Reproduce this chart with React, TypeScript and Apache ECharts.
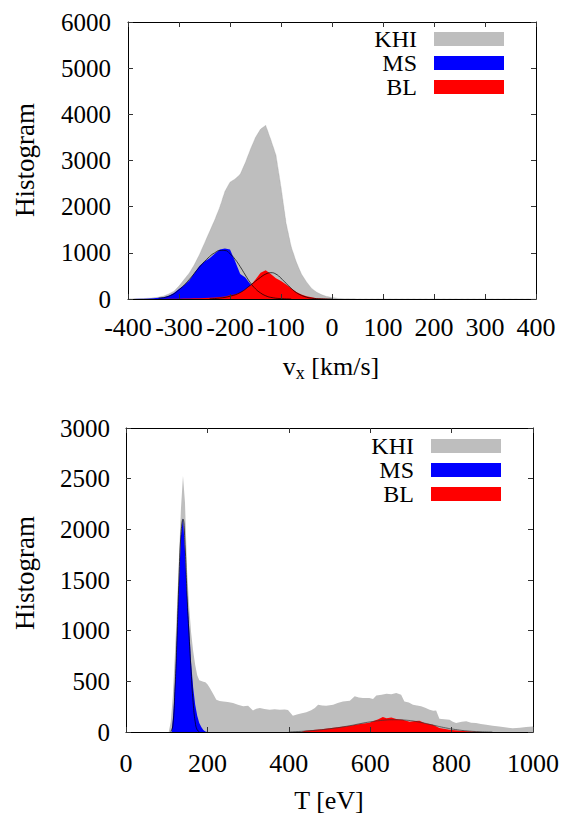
import React, { useEffect, useRef } from 'react';
import * as echarts from 'echarts';

const FONT = "'Liberation Serif', 'Times New Roman', serif";

// ---------- Top chart: v_x histogram ----------
const vxKHIx = [-400, -390, -380, -370, -360, -350, -340, -330, -320, -310, -300, -290, -280, -270, -260, -250, -240, -230, -220, -210, -200, -190, -180, -170, -160, -150, -140, -130, -120, -110, -100, -90, -80, -70, -60, -50, -40, -30, -20, -10, 0, 10, 20, 30, 40, 50, 400];
const vxKHIy = [0, 3, 6, 10, 16, 25, 40, 65, 110, 170, 280, 420, 560, 740, 960, 1210, 1460, 1710, 1990, 2330, 2530, 2600, 2700, 2950, 3240, 3500, 3680, 3760, 3450, 3120, 2420, 1640, 1130, 800, 540, 370, 230, 145, 90, 55, 30, 15, 8, 5, 3, 2, 1];

const vxMSx = [-400, -390, -380, -370, -360, -350, -340, -330, -320, -310, -300, -290, -280, -270, -260, -250, -240, -230, -220, -210, -200, -190, -180, -170, -160, -150, -140, -130, -120, -110, -100, -90, -80, -70];
const vxMSy = [0, 2, 4, 7, 12, 18, 28, 40, 70, 130, 215, 300, 400, 560, 715, 810, 885, 980, 1070, 1092, 1070, 820, 540, 465, 320, 210, 140, 75, 40, 20, 10, 5, 2, 0];

const vxBLx = [-330, -320, -310, -300, -290, -280, -270, -260, -250, -240, -230, -220, -210, -200, -190, -180, -170, -160, -150, -140, -130, -120, -110, -100, -90, -80, -70, -60, -50, -40, -30, -20, -10, 0, 10];
const vxBLy = [2, 3, 5, 7, 9, 11, 14, 17, 20, 25, 32, 42, 55, 80, 105, 140, 210, 290, 420, 570, 625, 540, 450, 390, 315, 235, 152, 95, 60, 38, 18, 10, 5, 2, 0];

const vxMSfitX = [-340, -320, -300, -280, -260, -240, -230, -220, -210, -200, -190, -180, -170, -160, -150, -140, -130, -120, -100, -80];
const vxMSfitY = [20, 60, 200, 420, 690, 920, 1000, 1050, 1050, 980, 860, 700, 520, 350, 220, 130, 70, 35, 8, 1];

const vxBLfitX = [-240, -220, -200, -180, -160, -140, -130, -120, -110, -100, -90, -80, -70, -60, -50, -40, -20, 0];
const vxBLfitY = [5, 20, 60, 140, 300, 470, 540, 570, 540, 450, 340, 230, 140, 80, 40, 18, 3, 0];

// ---------- Bottom chart: T histogram ----------
const tKHIx = [0, 100, 105, 110, 115, 120, 125, 130, 135, 140, 145, 150, 155, 160, 165, 170, 175, 180, 190, 195, 200, 206, 215, 222, 230, 239, 250, 263, 275, 288, 300, 312, 320, 329, 340, 353, 365, 378, 390, 398, 410, 420, 427, 443, 455, 464, 472, 482, 492, 509, 520, 533, 550, 562, 572, 582, 598, 607, 615, 628, 640, 652, 664, 676, 684, 695, 705, 715, 725, 735, 746, 755, 762, 770, 782, 795, 803, 811, 825, 836, 848, 860, 872, 885, 901, 917, 935, 950, 968, 983, 1000];
const tKHIy = [0, 0, 0, 100, 350, 750, 1200, 1700, 2200, 2530, 2260, 1600, 1250, 980, 800, 660, 560, 510, 495, 490, 470, 434, 370, 319, 305, 302, 295, 286, 270, 253, 260, 213, 230, 237, 228, 220, 225, 220, 222, 218, 161, 172, 181, 194, 215, 237, 270, 262, 260, 270, 285, 302, 309, 352, 340, 336, 336, 326, 361, 368, 378, 372, 385, 368, 302, 290, 270, 262, 253, 240, 220, 210, 213, 131, 125, 121, 100, 89, 100, 105, 92, 89, 80, 72, 62, 55, 45, 36, 42, 49, 55];

const tMSx = [100, 112, 115, 118, 122, 128, 135, 140, 145, 150, 155, 160, 165, 170, 175, 180, 185, 190, 195, 200];
const tMSy = [0, 0, 120, 290, 615, 1276, 1931, 2110, 1780, 1350, 1040, 680, 440, 270, 160, 90, 50, 20, 5, 0];

const tBLx = [430, 440, 460, 480, 500, 520, 550, 575, 598, 607, 620, 631, 640, 652, 664, 680, 697, 710, 721, 733, 754, 770, 795, 819, 840, 860, 875];
const tBLy = [0, 12, 20, 28, 38, 48, 62, 78, 92, 105, 125, 148, 135, 142, 128, 121, 102, 108, 112, 89, 72, 39, 23, 13, 7, 3, 0];

const tMSfitX = [110, 115, 120, 125, 130, 135, 140, 145, 150, 155, 160, 165, 170, 175, 180];
const tMSfitY = [5, 60, 400, 900, 1500, 1950, 2100, 1850, 1350, 950, 600, 290, 100, 20, 5];

const tBLfitX = [400, 450, 500, 550, 575, 600, 630, 660, 690, 720, 750, 780, 810, 840, 870, 900];
const tBLfitY = [0, 12, 32, 62, 82, 100, 115, 121, 116, 98, 72, 45, 24, 10, 3, 0];

const legendNames = ['KHI', 'MS', 'BL'];
const GREY = '#bebebe';
const BLUE = '#0000ff';
const RED = '#ff0000';

const zip = (xs: number[], ys: number[]) => xs.map((x, i) => [x, ys[i]]);
const plain = (v: number) => String(v);

function xAxisDef(grid: number, min: number, max: number, interval: number, pos: 'top' | 'bottom', margin: number) {
  return {
    type: 'value', gridIndex: grid, min, max, interval, position: pos, z: 10,
    axisLine: { show: true, onZero: false, lineStyle: { color: '#000', width: 1 } },
    axisTick: { show: true, inside: true, length: 5, lineStyle: { color: '#333', width: 1 } },
    axisLabel: { show: pos === 'bottom', fontFamily: FONT, fontSize: 26, color: '#000', margin, formatter: plain },
    splitLine: { show: false },
  };
}
function yAxisDef(grid: number, min: number, max: number, interval: number, pos: 'left' | 'right', margin: number) {
  return {
    type: 'value', gridIndex: grid, min, max, interval, position: pos, z: 10,
    axisLine: { show: true, onZero: false, lineStyle: { color: '#000', width: 1 } },
    axisTick: { show: true, inside: true, length: 5, lineStyle: { color: '#333', width: 1 } },
    axisLabel: { show: pos === 'left', fontFamily: FONT, fontSize: 25, color: '#000', margin, formatter: plain },
    splitLine: { show: false },
  };
}

function area(name: string, xi: number, yi: number, xs: number[], ys: number[], color: string, line?: any) {
  return {
    type: 'line', name, xAxisIndex: xi, yAxisIndex: yi, data: zip(xs, ys),
    symbol: 'none', smooth: false, color,
    itemStyle: { color, borderWidth: 0 },
    lineStyle: line || { width: 0, color },
    areaStyle: { color, opacity: 1 },
  };
}
function fit(name: string, xi: number, yi: number, xs: number[], ys: number[], color: string) {
  return {
    type: 'line', name, xAxisIndex: xi, yAxisIndex: yi, data: zip(xs, ys),
    symbol: 'none', smooth: true, lineStyle: { width: 0.7, color }, itemStyle: { color },
  };
}

function legendDef(right: number, top: number) {
  return {
    data: legendNames, orient: 'vertical', right, top, padding: 0,
    itemWidth: 70, itemHeight: 14, itemGap: 0, align: 'right', icon: 'rect',
    selectedMode: false,
    itemStyle: { borderWidth: 0 },
    lineStyle: { width: 0 },
    textStyle: { fontFamily: FONT, fontSize: 24, color: '#000', lineHeight: 14, padding: [0, 12, 0, 0] },
  };
}

export default function App() {
  const ref = useRef<HTMLDivElement>(null);
  useEffect(() => {
    const chart = echarts.init(ref.current!, null, { renderer: 'svg' });
    const option: any = {
      animation: false,
      backgroundColor: '#fff',
      grid: [
        { left: 128, top: 22, width: 408, height: 277 },
        { left: 126, top: 428, width: 407, height: 304 },
      ],
      xAxis: [
        xAxisDef(0, -400, 400, 100, 'bottom', 15),
        xAxisDef(0, -400, 400, 100, 'top', 8),
        xAxisDef(1, 0, 1000, 200, 'bottom', 18),
        xAxisDef(1, 0, 1000, 200, 'top', 8),
      ],
      yAxis: [
        yAxisDef(0, 0, 6000, 1000, 'left', 17),
        yAxisDef(0, 0, 6000, 1000, 'right', 8),
        yAxisDef(1, 0, 3000, 500, 'left', 16),
        yAxisDef(1, 0, 3000, 500, 'right', 8),
      ],
      legend: [legendDef(61, 27), legendDef(64, 434)],
      series: [
        area('KHI', 0, 0, vxKHIx, vxKHIy, GREY, { width: 0.6, color: '#9a9a9a', type: 'dotted' }),
        area('MS', 0, 0, vxMSx, vxMSy, BLUE),
        area('BL', 0, 0, vxBLx, vxBLy, RED),
        fit('MS fit', 0, 0, vxMSfitX, vxMSfitY, '#000'),
        fit('BL fit', 0, 0, vxBLfitX, vxBLfitY, '#000'),
        area('KHI', 2, 2, tKHIx, tKHIy, GREY),
        area('MS', 2, 2, tMSx, tMSy, BLUE),
        area('BL', 2, 2, tBLx, tBLy, RED),
        fit('MS fit', 2, 2, tMSfitX, tMSfitY, '#000'),
        fit('BL fit', 2, 2, tBLfitX, tBLfitY, '#333'),
      ],
      graphic: [
        { type: 'text', x: 25, y: 160, rotation: Math.PI / 2, style: { text: 'Histogram', fontFamily: FONT, fontSize: 27, fill: '#000', align: 'center', verticalAlign: 'middle' } },
        { type: 'text', x: 25, y: 573, rotation: Math.PI / 2, style: { text: 'Histogram', fontFamily: FONT, fontSize: 27, fill: '#000', align: 'center', verticalAlign: 'middle' } },
        {
          type: 'text', x: 331, y: 366,
          style: {
            text: '{v|v}{s|x}{v| [km/s]}', align: 'center', verticalAlign: 'middle', fill: '#000',
            rich: {
              v: { fontFamily: FONT, fontSize: 26, fill: '#000', lineHeight: 30, verticalAlign: 'middle' },
              s: { fontFamily: FONT, fontSize: 18, fill: '#000', lineHeight: 30, padding: [14, 0, 0, 0], verticalAlign: 'middle' },
            },
          },
        },
        { type: 'text', x: 329, y: 800, style: { text: 'T [eV]', fontFamily: FONT, fontSize: 26, fill: '#000', align: 'center', verticalAlign: 'middle' } },
      ],
    };
    chart.setOption(option);
    return () => chart.dispose();
  }, []);
  return <div ref={ref} style={{ position: 'absolute', left: 0, top: 0, width: 565, height: 813 }} />;
}
